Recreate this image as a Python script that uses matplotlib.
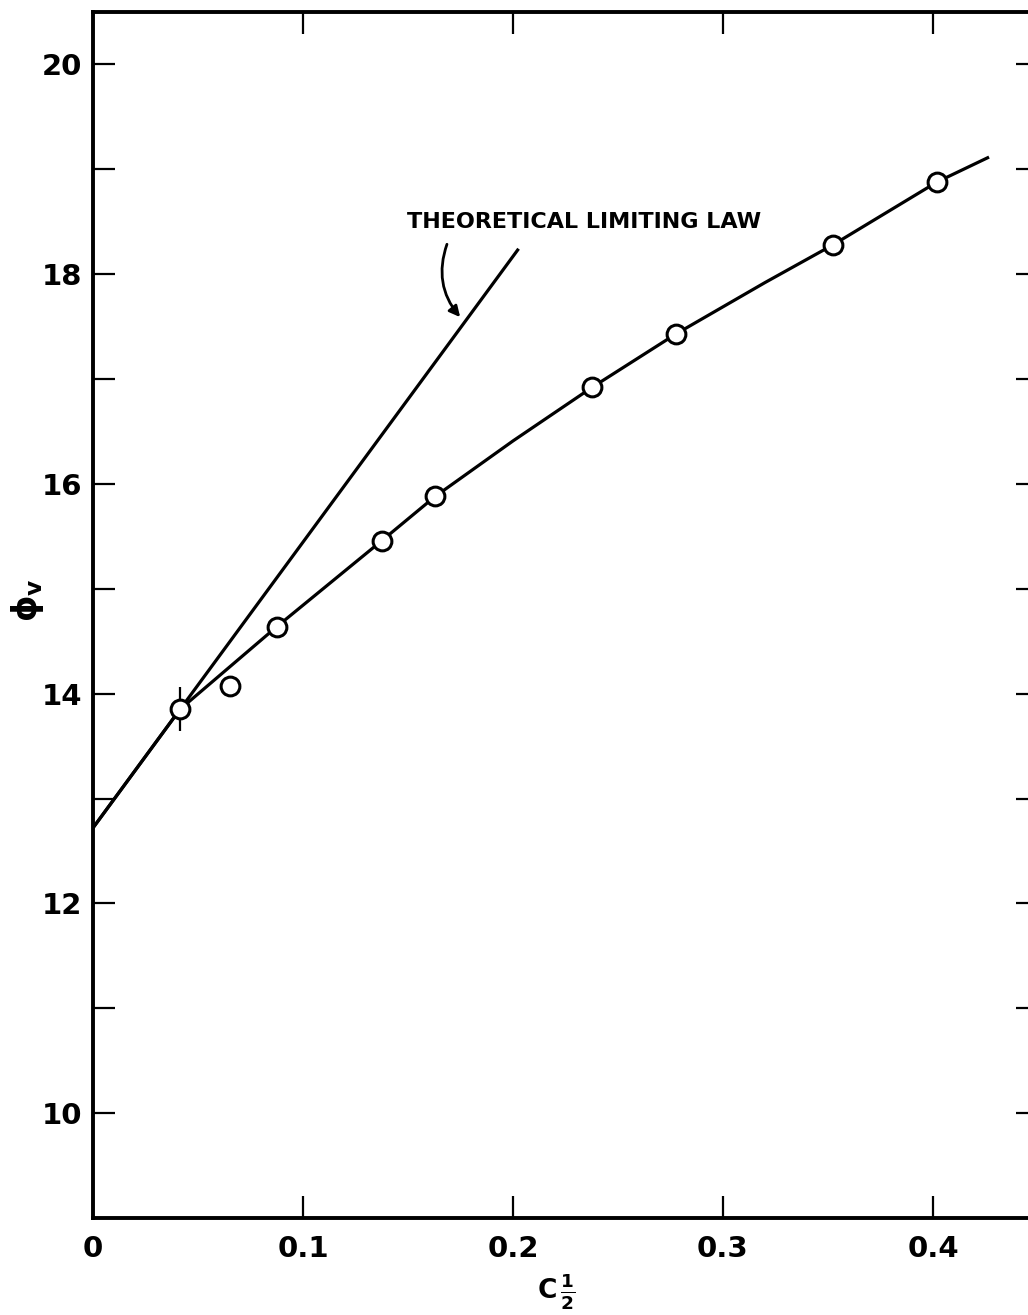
import numpy as np
import matplotlib as mpl
mpl.use('Agg')
import matplotlib.pyplot as plt

plt.rcParams['font.family'] = ['DejaVu Sans']
plt.rcParams['mathtext.fontset'] = 'dejavusans'

# --------------------------
# Data
# --------------------------
c_half = [0.0414, 0.0652, 0.0876, 0.1376, 0.1629, 0.2376, 0.2776, 0.3524, 0.402]
phi_v = [13.85, 14.07, 14.64, 15.46, 15.88, 16.92, 17.43, 18.28, 18.88]

# smooth curve drawn through the points (knots)
curve_x = [0.0, 0.0414, 0.0876, 0.1376, 0.1629, 0.2, 0.2376, 0.2776, 0.32, 0.3524, 0.402, 0.426]
curve_y = [12.72, 13.85, 14.64, 15.46, 15.88, 16.41, 16.92, 17.43, 17.92, 18.28, 18.88, 19.11]

# theoretical limiting law (straight line)
law_x = [0.0, 0.2022]
law_y = [12.72, 18.23]

x_ticks = [0.0, 0.1, 0.2, 0.3, 0.4]
x_labels = ['0', '0.1', '0.2', '0.3', '0.4']
y_major = [10, 12, 14, 16, 18, 20]
y_minor = [11, 13, 15, 17, 19]

# --------------------------
# Figure
# --------------------------
fig = plt.figure(figsize=(10.28, 13.15), dpi=100)
ax = fig.add_axes([93 / 1028, 97 / 1315, 945 / 1028, 1206 / 1315])

ax.plot(curve_x, curve_y, color='black', lw=2.3, zorder=2,
        solid_joinstyle='round')
ax.plot(law_x, law_y, color='black', lw=2.3, zorder=2)
ax.errorbar(c_half[0], phi_v[0], yerr=0.21, fmt='none', ecolor='black',
            elinewidth=1.6, capsize=0, zorder=2)
ax.plot(c_half, phi_v, 'o', ms=13.5, mfc='white', mec='black', mew=2.2, zorder=3)

ax.set_xlim(0, 0.45)
ax.set_ylim(9, 20.5)

ax.set_xticks(x_ticks)
ax.set_xticklabels(x_labels)
ax.set_yticks(y_major)
ax.set_yticks(y_minor, minor=True)

ax.tick_params(which='both', direction='in', length=16, width=1.6,
               top=True, right=True, labelsize=21, pad=8)
ax.tick_params(axis='x', pad=12)
for lab in ax.get_xticklabels() + ax.get_yticklabels():
    lab.set_fontweight('bold')

for sp in ax.spines.values():
    sp.set_linewidth(2.8)

# axis labels placed as text so they stay inside the canvas
ax.text(-0.069, 0.512, r'$\mathbf{\phi_v}$', transform=ax.transAxes,
        rotation=90, fontsize=24, ha='center', va='center')
ax.text(0.49, -0.0613, r'$\mathbf{C}\,\frac{\mathbf{1}}{\mathbf{2}}$',
        transform=ax.transAxes, fontsize=19, ha='center', va='center')

ax.annotate('THEORETICAL LIMITING LAW',
            xy=(0.1757, 17.57), xytext=(0.1495, 18.5),
            fontsize=16, fontweight='bold', ha='left', va='center')
ax.annotate('', xy=(0.1757, 17.57), xytext=(0.169, 18.31),
            arrowprops=dict(arrowstyle='-|>', color='black', lw=2,
                            mutation_scale=16,
                            connectionstyle='arc3,rad=0.3'))

plt.savefig('out.png', dpi=100)
plt.close()
